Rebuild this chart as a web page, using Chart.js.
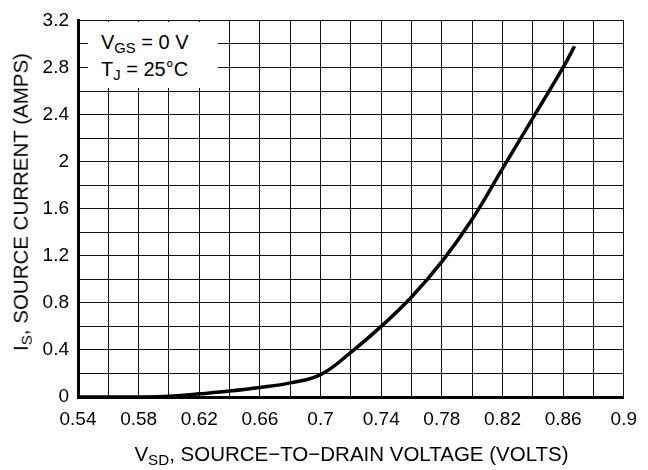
<!DOCTYPE html>
<html>
<head>
<meta charset="utf-8">
<script src="https://cdn.jsdelivr.net/npm/chart.js@4.4.1/dist/chart.umd.min.js"></script>
<style>
html,body{margin:0;padding:0;background:#fff;}
#wrap{position:relative;width:648px;height:470px;overflow:hidden;font-family:'Liberation Sans',Arial,sans-serif;color:#000;}
#c{position:absolute;left:0;top:0;}
.t{position:absolute;white-space:nowrap;line-height:1;}
.sub{font-size:0.74em;position:relative;top:0.25em;}
</style>
</head>
<body>
<div id="wrap">
  <canvas id="c" width="648" height="470"></canvas>
  <div style="position:absolute;left:88px;top:22px;width:130px;height:66px;background:#fff;"></div>
  <div class="t" style="left:101px;top:32px;font-size:20px;">V<span class="sub">GS</span> = 0 V</div>
  <div class="t" style="left:101px;top:59px;font-size:20px;">T<span class="sub">J</span> = 25°C</div>
  <div class="t" style="left:78px;width:547px;text-align:center;top:444px;font-size:20.5px;">V<span class="sub">SD</span>, SOURCE−TO−DRAIN VOLTAGE (VOLTS)</div>
  <div class="t" style="left:21px;top:202px;font-size:20.5px;transform:translate(-50%,-50%) rotate(-90deg);">I<span class="sub">S</span>, SOURCE CURRENT (AMPS)</div>
</div>
<script>
// Data
const vsdVolts = [0.54, 0.56, 0.58, 0.60, 0.62, 0.64, 0.66, 0.68, 0.70, 0.72, 0.74, 0.76, 0.78, 0.80, 0.82, 0.84, 0.86, 0.8675];
const sourceCurrentAmps = [0, 0, 0, 0.006, 0.027, 0.05, 0.08, 0.12, 0.19, 0.38, 0.60, 0.85, 1.15, 1.51, 1.94, 2.37, 2.80, 2.98];

// Grid and tick labels
const xGridValues = [0.54, 0.56, 0.58, 0.60, 0.62, 0.64, 0.66, 0.68, 0.70, 0.72, 0.74, 0.76, 0.78, 0.80, 0.82, 0.84, 0.86, 0.88, 0.90];
const xLabelValues = [0.54, 0.58, 0.62, 0.66, 0.70, 0.74, 0.78, 0.82, 0.86, 0.90];
const xTickLabels = ['0.54', '0.58', '0.62', '0.66', '0.7', '0.74', '0.78', '0.82', '0.86', '0.9'];
const yGridValues = [0, 0.2, 0.4, 0.6, 0.8, 1.0, 1.2, 1.4, 1.6, 1.8, 2.0, 2.2, 2.4, 2.6, 2.8, 3.0, 3.2];
const yLabelValues = [0, 0.4, 0.8, 1.2, 1.6, 2.0, 2.4, 2.8, 3.2];
const yTickLabels = ['0', '0.4', '0.8', '1.2', '1.6', '2', '2.4', '2.8', '3.2'];

function labelFor(values, labels) {
  return function (v) {
    for (let i = 0; i < values.length; i++) {
      if (Math.abs(values[i] - v) < 1e-6) return labels[i];
    }
    return '';
  };
}

const tickFont = { family: "'Liberation Sans', Arial, sans-serif", size: 19 };

new Chart(document.getElementById('c'), {
  type: 'scatter',
  data: {
    datasets: [{
      data: vsdVolts.map((x, i) => ({ x: x, y: sourceCurrentAmps[i] })),
      showLine: true,
      borderColor: '#000',
      borderWidth: 3.5,
      pointRadius: 0,
      tension: 0.4,
      fill: false
    }]
  },
  options: {
    responsive: false,
    devicePixelRatio: 1,
    animation: false,
    layout: { padding: { top: 13, right: 23, left: 0, bottom: 0 } },
    plugins: { legend: { display: false }, tooltip: { enabled: false } },
    scales: {
      x: {
        type: 'linear',
        min: 0.54,
        max: 0.9,
        afterBuildTicks: (s) => { s.ticks = xGridValues.map(v => ({ value: v })); },
        afterFit: (s) => { s.height = 73; },
        grid: { color: '#111', lineWidth: 1, drawTicks: false },
        border: { display: true, color: '#000', width: 3 },
        ticks: {
          autoSkip: false, maxRotation: 0, minRotation: 0, padding: 11,
          color: '#000', font: tickFont,
          callback: labelFor(xLabelValues, xTickLabels)
        }
      },
      y: {
        type: 'linear',
        min: 0,
        max: 3.2,
        afterBuildTicks: (s) => { s.ticks = yGridValues.map(v => ({ value: v })); },
        afterFit: (s) => { s.width = 78; },
        grid: { color: '#111', lineWidth: 1, drawTicks: false },
        border: { display: true, color: '#000', width: 3 },
        ticks: {
          autoSkip: false, padding: 9,
          color: '#000', font: tickFont,
          callback: labelFor(yLabelValues, yTickLabels)
        }
      }
    }
  }
});
</script>
</body>
</html>
